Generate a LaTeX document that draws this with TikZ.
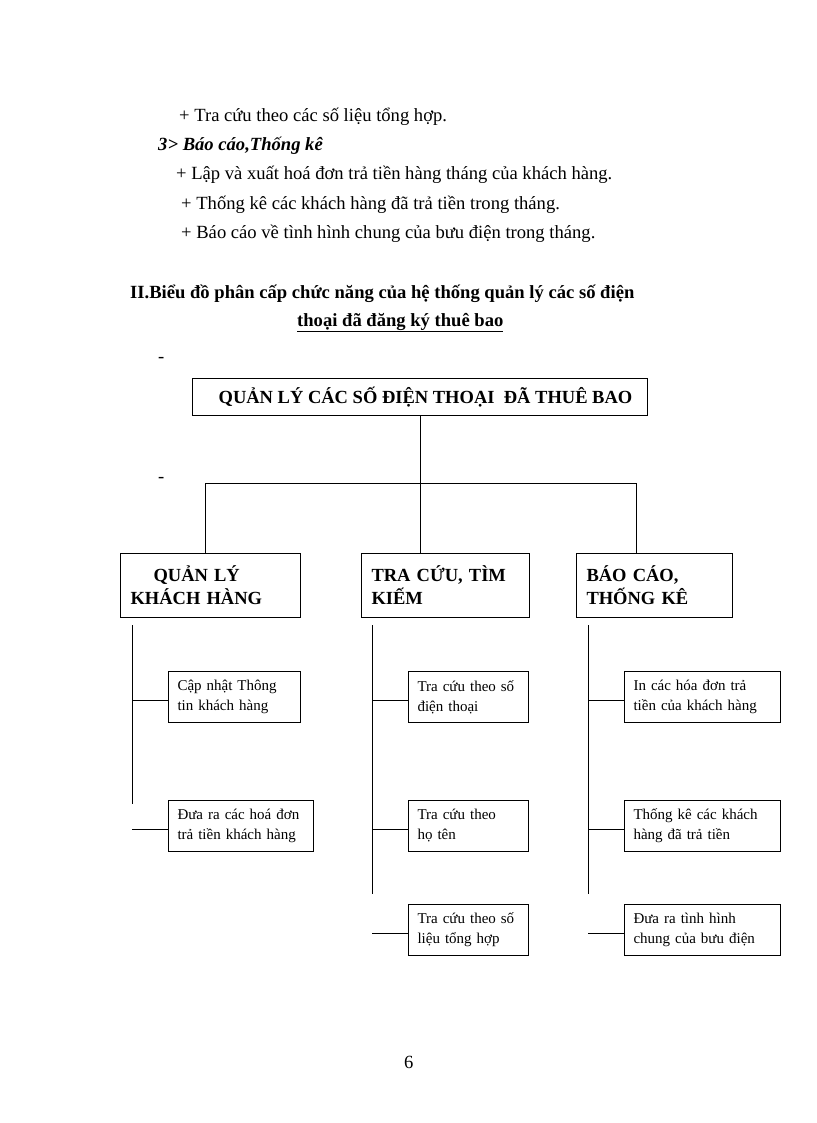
\documentclass[tikz,border=0pt]{standalone}
\usepackage{fontspec}
\setmainfont{Liberation Serif}
\usetikzlibrary{positioning}
\tikzstyle{rootbox}=[draw,line width=1pt,anchor=north west,minimum width=455pt,minimum height=37pt,inner sep=0pt,font=\bfseries\fontsize{18.5}{22}\selectfont]
\tikzstyle{groupbox}=[draw,line width=1pt,anchor=north west,minimum height=64pt,inner xsep=10pt,inner ysep=0pt,align=left,font=\bfseries\fontsize{18.5}{23}\selectfont]
\tikzstyle{taskbox}=[draw,line width=1pt,anchor=north west,minimum height=51pt,inner xsep=9pt,inner ysep=0pt,align=left,font=\fontsize{15}{20}\selectfont]
\tikzstyle{bodytext}=[anchor=base west,inner sep=0pt,font=\fontsize{18.6}{22}\selectfont]
\tikzstyle{link}=[line width=0.9pt]

\begin{document}
\begin{tikzpicture}[x=1pt,y=-1pt]
\useasboundingbox[fill=white] (0,0) rectangle (816,1123);

% text above the chart
\node[bodytext] (t1) at (179,122) {+ Tra cứu theo các số liệu tổng hợp.};
\node[bodytext,font=\bfseries\itshape\fontsize{18.6}{22}\selectfont] (t2) at (158,151) {3> Báo cáo,Thống kê};
\node[bodytext] (t3) at (176,180) {+ Lập và xuất hoá đơn trả tiền hàng tháng của khách hàng.};
\node[bodytext] (t4) at (181,210) {+ Thống kê các khách hàng đã trả tiền trong tháng.};
\node[bodytext] (t5) at (181,239) {+ Báo cáo về tình hình chung của bưu điện trong tháng.};
\node[bodytext,font=\bfseries\fontsize{18.6}{22}\selectfont] (h1) at (130,298) {II.Biểu đồ phân cấp chức năng của hệ thống quản lý các số điện};
\node[bodytext,font=\bfseries\fontsize{18.6}{22}\selectfont] (h2) at (297,326) {\underline{thoại đã đăng ký thuê bao}};
\node[bodytext] (d1) at (158,362) {-};
\node[bodytext] (d2) at (158,482) {-};

% chart
\node[rootbox] (root) at (192,378) {\hspace*{11pt}QUẢN LÝ CÁC SỐ ĐIỆN THOẠI\ \ ĐÃ THUÊ BAO};

\node[groupbox,text width=160pt] (qlkh) at (120,553) {\hspace*{23pt}QUẢN LÝ\\KHÁCH HÀNG};
\node[groupbox,text width=148pt] (tracuu) at (361,553) {TRA CỨU, TÌM\\KIẾM};
\node[groupbox,text width=136pt] (baocao) at (576,553) {BÁO CÁO,\\THỐNG KÊ};

\node[taskbox,text width=114pt] (a1) at (168,671) {Cập nhật Thông\\tin khách hàng};
\node[taskbox,text width=127pt] (a2) at (168,800) {Đưa ra các hoá đơn\\trả tiền khách hàng};
\node[taskbox,text width=102pt] (b1) at (408,671) {Tra cứu theo số\\điện thoại};
\node[taskbox,text width=102pt] (b2) at (408,800) {Tra cứu theo\\họ tên};
\node[taskbox,text width=102pt] (b3) at (408,904) {Tra cứu theo số\\liệu tổng hợp};
\node[taskbox,text width=138pt] (c1) at (624,671) {In các hóa đơn trả\\tiền của khách hàng};
\node[taskbox,text width=138pt] (c2) at (624,800) {Thống kê các khách\\hàng đã trả tiền};
\node[taskbox,text width=138pt] (c3) at (624,904) {Đưa ra tình hình\\chung của bưu điện};

% bus lines
\coordinate (j1) at (205,483);
\coordinate (j3) at (636,483);
\draw[link] (root.south) -- (root.south |- j1);
\draw[link] (j1) -- (j3);
\draw[link] (j1) -- (j1 |- qlkh.north);
\draw[link] (root.south |- j1) -- (root.south |- tracuu.north);
\draw[link] (j3) -- (j3 |- baocao.north);

% spines
\coordinate (s1) at (132,625);
\coordinate (s1end) at (132,804);
\coordinate (s2) at (372,625);
\coordinate (s2end) at (372,894);
\coordinate (s3) at (588,625);
\coordinate (s3end) at (588,894);
\draw[link] (s1) -- (s1end);
\draw[link] (s2) -- (s2end);
\draw[link] (s3) -- (s3end);
\foreach \n in {a1,a2,b1,b2,b3,c1,c2,c3}
  \draw[link] ([yshift=-3.5pt]\n.west) -- ++(-36,0);

\node[bodytext] (page) at (404,1068) {6};
\end{tikzpicture}
\end{document}
